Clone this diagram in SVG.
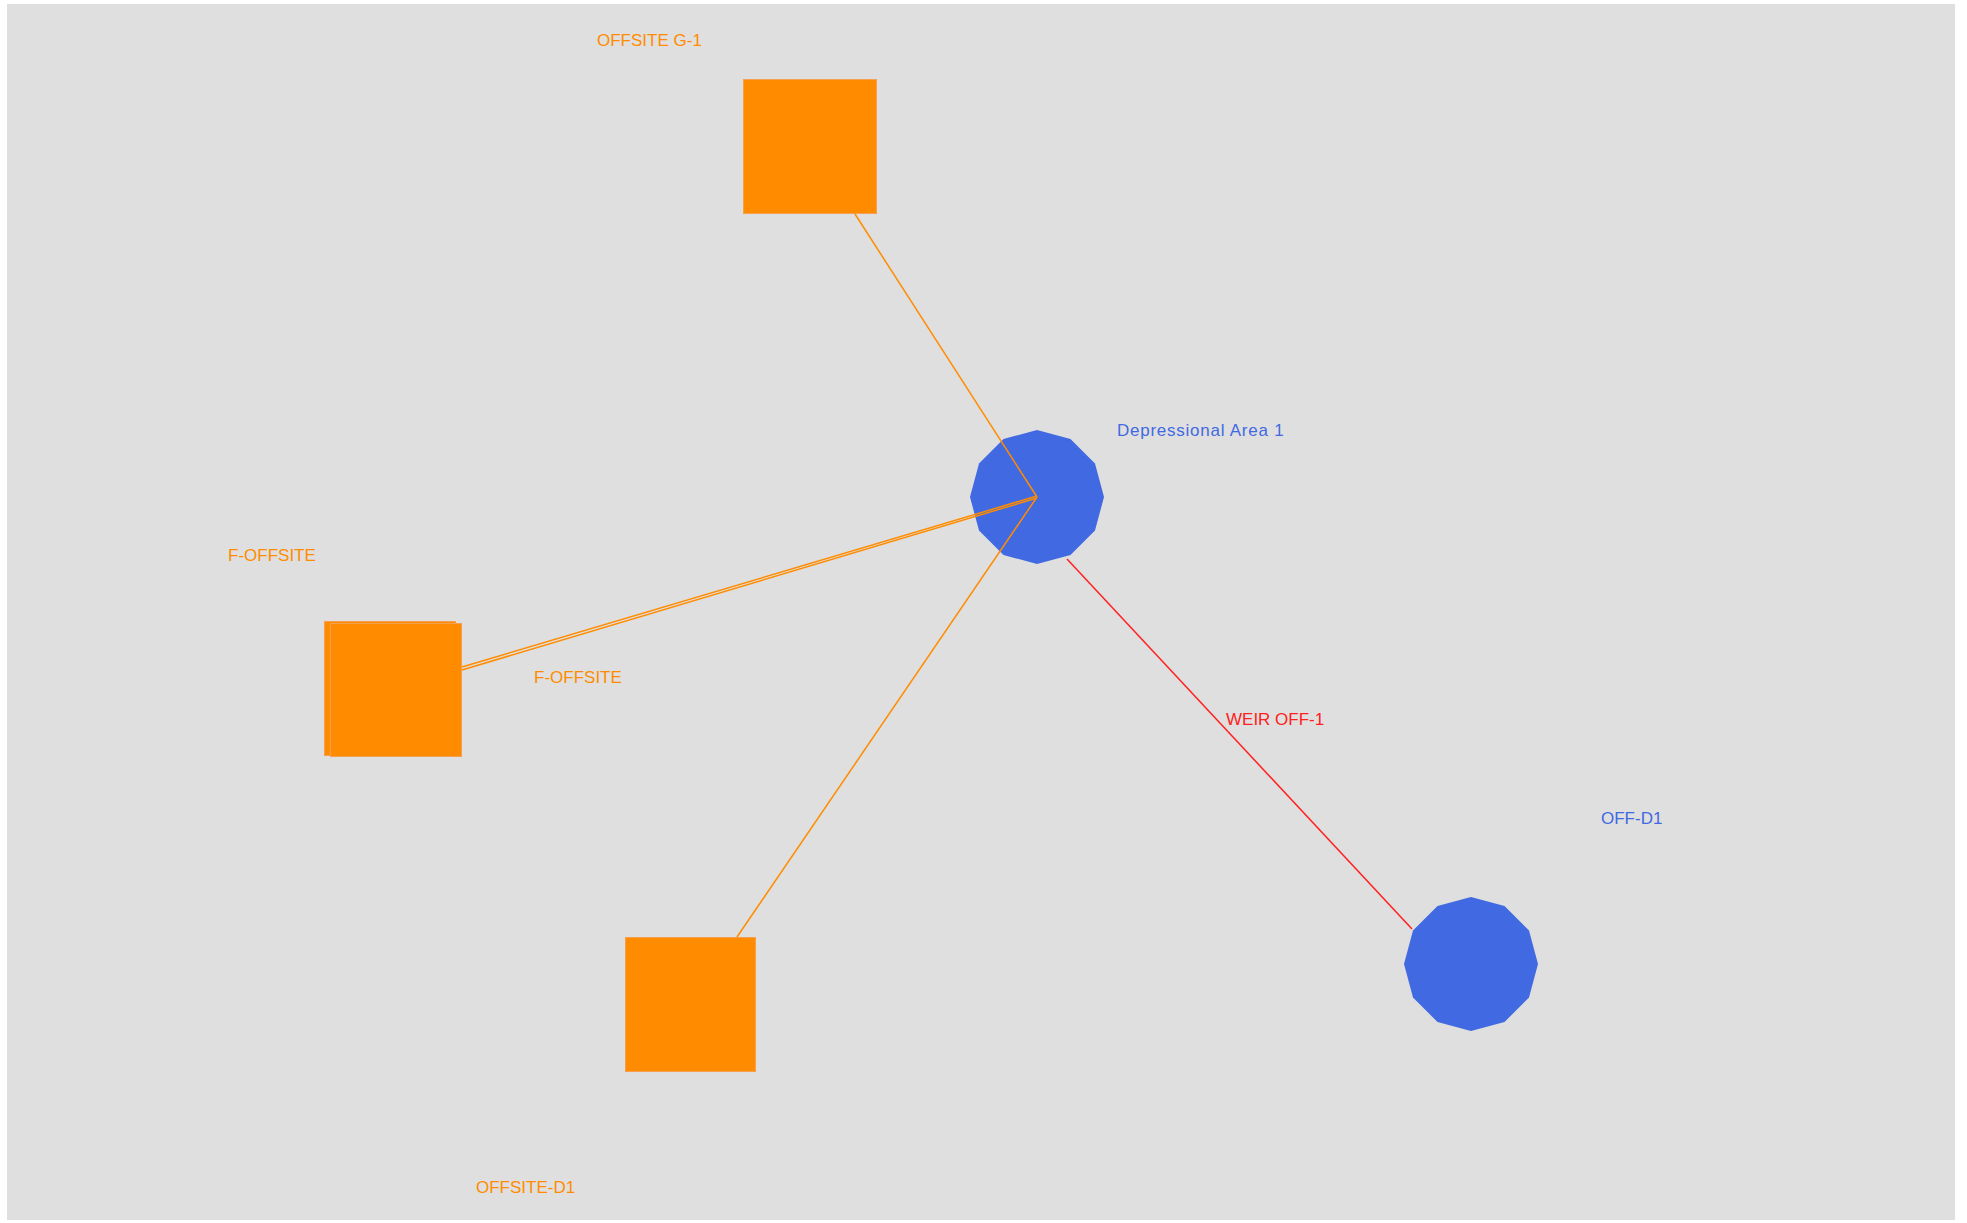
<svg xmlns="http://www.w3.org/2000/svg" width="1967" height="1223" viewBox="0 0 1967 1223">
<style>
.lbl{font-family:"Liberation Sans",Arial,sans-serif;font-size:17px}
.o{fill:#FF8C00}
.b{fill:#4169E1}
.r{fill:#FF2020}
.sq{fill:#FF8C00;stroke:#F5A050;stroke-width:1}
.ln{fill:none;stroke-width:1.5}
</style>
<rect x="0" y="0" width="1967" height="1223" fill="#FFFFFF"/>
<rect x="7" y="4" width="1948" height="1216" fill="#DFDFDF"/>
<g id="offsite-g-1">
<rect class="sq" x="743.5" y="79.5" width="133" height="134"/>
<text class="lbl o" x="597" y="46">OFFSITE G-1</text>
</g>
<g id="f-offsite">
<rect class="sq" x="324.5" y="621.5" width="131" height="134"/>
<rect class="sq" x="330.5" y="623.5" width="131" height="133"/>
<text class="lbl o" x="228" y="561">F-OFFSITE</text>
</g>
<g id="offsite-d1">
<rect class="sq" x="625.5" y="937.5" width="130" height="134"/>
<text class="lbl o" x="476" y="1193">OFFSITE-D1</text>
</g>
<g id="depressional-area-1">
<polygon class="b" points="1037,430 1070.5,439 1095,463.5 1104,497 1095,530.5 1070.5,555 1037,564 1003.5,555 979,530.5 970,497 979,463.5 1003.5,439"/>
<text class="lbl b" x="1117" y="436" letter-spacing="0.75">Depressional Area 1</text>
</g>
<g id="off-d1">
<polygon class="b" points="1471,897 1504.5,906 1529,930.5 1538,964 1529,997.5 1504.5,1022 1471,1031 1437.5,1022 1413,997.5 1404,964 1413,930.5 1437.5,906"/>
<text class="lbl b" x="1601" y="824">OFF-D1</text>
</g>
<g id="connectors">
<line class="ln" x1="855" y1="214" x2="1037" y2="497" stroke="#FF8C00"/>
<line class="ln" x1="737" y1="937" x2="1037" y2="497" stroke="#FF8C00"/>
<line class="ln" x1="462" y1="667" x2="1037" y2="496" stroke="#FF8C00"/>
<line class="ln" x1="462" y1="670" x2="1037" y2="498" stroke="#FF8C00"/>
<line class="ln" x1="1067" y1="559" x2="1412" y2="929" stroke="#FF2020"/>
<text class="lbl o" x="534" y="683">F-OFFSITE</text>
<text class="lbl r" x="1226" y="725">WEIR OFF-1</text>
</g>
</svg>
